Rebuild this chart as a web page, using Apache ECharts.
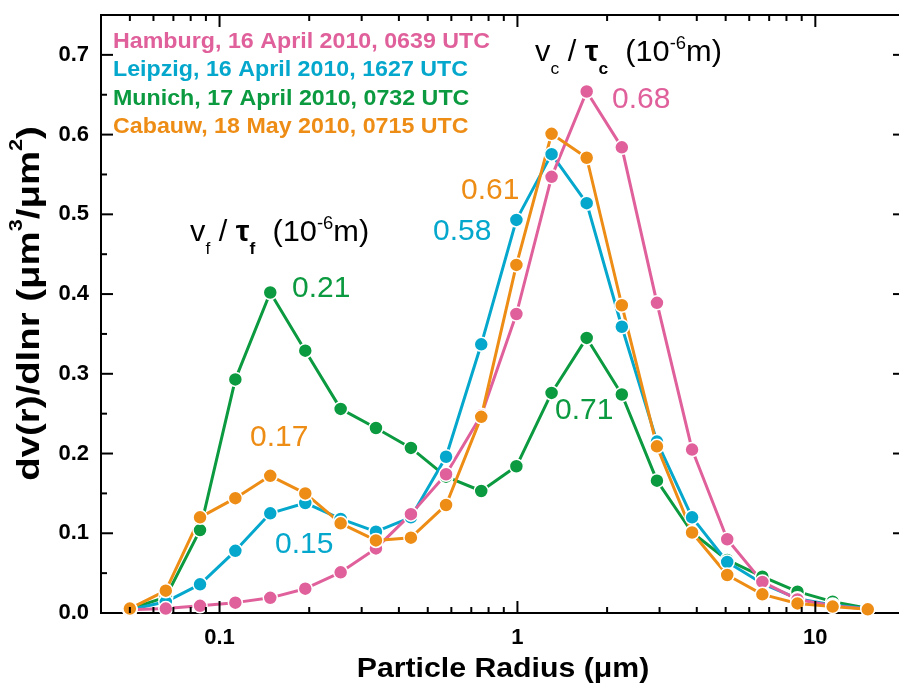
<!DOCTYPE html>
<html><head><meta charset="utf-8">
<script src="https://cdn.jsdelivr.net/npm/echarts@6/dist/echarts.min.js"></script>
<style>html,body{margin:0;padding:0;background:#fff}#c{width:899px;height:686px}</style>
</head><body><div id="c"></div>
<script>
const radius = [0.050,0.066,0.086,0.113,0.148,0.194,0.255,0.335,0.439,0.576,0.756,0.992,1.302,1.708,2.241,2.940,3.857,5.061,6.641,8.713,11.432,15.000];
const hamburg = [0.004,0.0055,0.009,0.013,0.019,0.0305,0.051,0.081,0.124,0.174,0.248,0.375,0.547,0.654,0.584,0.389,0.205,0.0925,0.039,0.017,0.009,0.005];
const leipzig = [0.004,0.014,0.036,0.078,0.125,0.138,0.118,0.102,0.120,0.196,0.337,0.493,0.5755,0.514,0.359,0.215,0.120,0.064,0.037,0.018,0.010,0.0055];
const munich  = [0.005,0.020,0.104,0.293,0.402,0.329,0.256,0.232,0.207,0.171,0.153,0.184,0.276,0.345,0.274,0.166,0.101,0.0665,0.0456,0.0268,0.0142,0.006];
const cabauw  = [0.0055,0.028,0.120,0.144,0.172,0.150,0.1125,0.091,0.0945,0.1355,0.246,0.4366,0.601,0.571,0.386,0.209,0.101,0.0477,0.0234,0.012,0.008,0.0046];
const seriesNames = ['Hamburg, 16 April 2010, 0639 UTC','Leipzig, 16 April 2010, 1627 UTC','Munich, 17 April 2010, 0732 UTC','Cabauw, 18 May 2010, 0715 UTC'];
const colors = {hamburg:'#E0609B', leipzig:'#05A8CC', munich:'#0B9A3F', cabauw:'#EE8D15'};
const xMajorTicks = [0.1,1,10];
const xMinorTicks = [0.05,0.06,0.07,0.08,0.09,0.2,0.3,0.4,0.5,0.6,0.7,0.8,0.9,2,3,4,5,6,7,8,9];
const yMajorTicks = [0,0.1,0.2,0.3,0.4,0.5,0.6,0.7];
const yMinorTicks = [0.05,0.15,0.25,0.35,0.45,0.55,0.65];
const xMin = 0.04, xMax = 20, yMin = 0, yMax = 0.75;

const FF = '"Liberation Sans", Arial, Helvetica, sans-serif';
const chart = echarts.init(document.getElementById('c'), null, {renderer:'canvas'});

function lineSeries(name, vals, color) {
  return {
    name, type:'line', data: radius.map((r,i)=>[r, vals[i]]),
    symbol:'circle', symbolSize:14, showSymbol:true, showAllSymbol:true,
    lineStyle:{color, width:3}, itemStyle:{color, borderColor:'#fff', borderWidth:1.5},
    emphasis:{disabled:true}, z:3, animation:false
  };
}
const xTicks = xMajorTicks.map(v=>({v, len:12})).concat(xMinorTicks.map(v=>({v, len:6})));
const yTicks = yMajorTicks.map(v=>({v, len:12})).concat(yMinorTicks.map(v=>({v, len:6})));
const tickStyle = {stroke:'#000', lineWidth:2};
const xTickSeries = {
  type:'custom', silent:true, z:5, clip:false, animation:false,
  data: xTicks.map(t=>[t.v, yMin]),
  renderItem(params, api) {
    const t = xTicks[params.dataIndex];
    const b = api.coord([t.v, yMin]), tp = api.coord([t.v, yMax]);
    return {type:'group', children:[
      {type:'line', shape:{x1:b[0],y1:b[1],x2:b[0],y2:b[1]-t.len}, style:tickStyle},
      {type:'line', shape:{x1:tp[0],y1:tp[1],x2:tp[0],y2:tp[1]+t.len}, style:tickStyle}
    ]};
  }
};
const yTickSeries = {
  type:'custom', silent:true, z:5, clip:false, animation:false,
  data: yTicks.map(t=>[xMin, t.v]),
  renderItem(params, api) {
    const t = yTicks[params.dataIndex];
    const l = api.coord([xMin, t.v]), r = api.coord([xMax, t.v]);
    return {type:'group', children:[
      {type:'line', shape:{x1:l[0],y1:l[1],x2:l[0]+t.len,y2:l[1]}, style:tickStyle},
      {type:'line', shape:{x1:r[0],y1:r[1],x2:r[0]-t.len,y2:r[1]}, style:tickStyle}
    ]};
  }
};

const valFont = 30;
function valLabel(text, x, y, color) {
  return {type:'text', x, y, z:10, style:{text, fill:color, fontFamily:FF, fontSize:valFont, textAlign:'left', textVerticalAlign:'middle'}};
}
function legendText(text, y, color) {
  return {type:'text', x:113, y, scaleX:1.056, z:10, style:{text, fill:color, fontFamily:FF, fontSize:22, fontWeight:'bold', textAlign:'left', textVerticalAlign:'middle'}};
}
function sizeLabel(sub, x, y) {
  return {type:'text', x, y, z:10, scaleX:1.025, style:{
    text:'{m|v}{s|' + sub + '}{m| / }{t|τ}{sb|' + sub + '}{m|  (10}{p|-6}{m|m)}',
    fill:'#000', fontFamily:FF, textAlign:'left', textVerticalAlign:'top',
    rich:{
      m:{fontFamily:FF, fontSize:30, lineHeight:50, verticalAlign:'middle', fill:'#000'},
      t:{fontFamily:FF, fontSize:30, fontWeight:'bold', lineHeight:50, verticalAlign:'middle', fill:'#000'},
      s:{fontFamily:FF, fontSize:17, lineHeight:17, verticalAlign:'bottom', fill:'#000'},
      sb:{fontFamily:FF, fontSize:17, fontWeight:'bold', lineHeight:17, verticalAlign:'bottom', fill:'#000'},
      p:{fontFamily:FF, fontSize:18, lineHeight:18, verticalAlign:'top', padding:[7,0,0,0], fill:'#000'}
    }
  }};
}

const option = {
  backgroundColor:'#fff',
  animation:false,
  grid:{left:101, top:15, width:804, height:598, show:true, borderColor:'#000', borderWidth:2, backgroundColor:'transparent', containLabel:false, outerBoundsMode:'none'},
  xAxis:{
    type:'log', logBase:10, min:xMin, max:xMax,
    axisLine:{show:false}, axisTick:{show:false}, minorTick:{show:false}, splitLine:{show:false}, minorSplitLine:{show:false},
    axisLabel:{
      show:true, margin:14, color:'#000', fontFamily:FF, fontSize:22, fontWeight:'bold', showMinLabel:true, showMaxLabel:true,
      formatter:(v)=>{ const l=Math.log10(v); if (Math.abs(l-Math.round(l))<1e-6 && v>0.05 && v<15) return String(+v.toPrecision(3)); return ''; }
    }
  },
  yAxis:{
    type:'value', min:yMin, max:yMax, interval:0.1,
    axisLine:{show:false}, axisTick:{show:false}, splitLine:{show:false},
    axisLabel:{show:true, margin:12, color:'#000', fontFamily:FF, fontSize:22, fontWeight:'bold', showMaxLabel:false,
      formatter:(v)=> v>0.72 ? '' : v.toFixed(1)}
  },
  series:[
    lineSeries(seriesNames[2], munich, colors.munich),
    lineSeries(seriesNames[1], leipzig, colors.leipzig),
    lineSeries(seriesNames[0], hamburg, colors.hamburg),
    lineSeries(seriesNames[3], cabauw, colors.cabauw),
    xTickSeries, yTickSeries
  ],
  graphic:[
    legendText(seriesNames[0], 41.5, colors.hamburg),
    legendText(seriesNames[1], 70, colors.leipzig),
    legendText(seriesNames[2], 98.5, colors.munich),
    legendText(seriesNames[3], 127, colors.cabauw),
    sizeLabel('f', 190, 208),
    sizeLabel('c', 535, 28),
    valLabel('0.21', 292, 289, colors.munich),
    valLabel('0.17', 250, 437.5, colors.cabauw),
    valLabel('0.15', 275, 545, colors.leipzig),
    valLabel('0.61', 461, 191, colors.cabauw),
    valLabel('0.58', 433, 232, colors.leipzig),
    valLabel('0.68', 612, 100, colors.hamburg),
    valLabel('0.71', 555, 411, colors.munich),
    {type:'text', x:503, y:670, scaleX:1.12, z:10, style:{text:'Particle Radius (μm)', fill:'#000', fontFamily:FF, fontSize:27, fontWeight:'bold', textAlign:'center', textVerticalAlign:'middle'}},
    {type:'text', x:30.6, y:303.5, rotation:Math.PI/2, scaleX:1.2, z:10, style:{
      text:'{m|dv(r)/dlnr (μm}{p|3}{m|/μm}{p|2}{m|)}', fill:'#000', fontFamily:FF, textAlign:'center', textVerticalAlign:'middle',
      rich:{
        m:{fontFamily:FF, fontSize:32, fontWeight:'bold', lineHeight:50, verticalAlign:'middle', fill:'#000'},
        p:{fontFamily:FF, fontSize:18, fontWeight:'bold', lineHeight:18, verticalAlign:'top', padding:[2,0,0,0], fill:'#000'}
      }
    }}
  ]
};
chart.setOption(option);
</script></body></html>
